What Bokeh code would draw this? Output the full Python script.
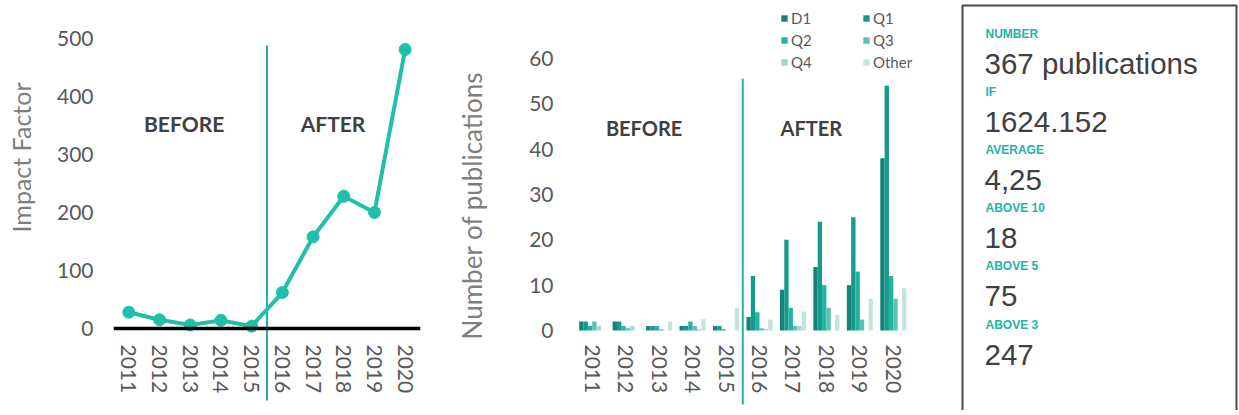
import math
from bokeh.plotting import figure
from bokeh.models import Range1d, FixedTicker, Legend, LegendItem
from bokeh.layouts import row
from bokeh.core.properties import value
from bokeh.embed import file_html
from bokeh.resources import INLINE

# ---------------- data ----------------
years = [2011, 2012, 2013, 2014, 2015, 2016, 2017, 2018, 2019, 2020]
impact_factor = [28, 15, 6, 14, 4, 62, 158, 228, 200, 481]

series_names = ["D1", "Q1", "Q2", "Q3", "Q4", "Other"]
d1 = [2, 2, 1, 1, 1, 3, 9, 14, 10, 38]
q1 = [2, 2, 1, 1, 1, 12, 20, 24, 25, 54]
q2 = [1, 1, 1, 2, 0.3, 4, 5, 10, 13, 12]
q3 = [2, 0.5, 0.3, 1, 0, 0.5, 1, 5, 2.4, 7]
q4 = [1, 1, 0, 0.3, 0, 0.3, 1, 0, 0, 0]
other = [0, 0, 2, 2.5, 5, 2.4, 4.2, 3.5, 7, 9.3]
series_values = [d1, q1, q2, q3, q4, other]
series_colors = ["#15837a", "#17998b", "#20b4a3", "#58c2b3", "#a2d6cc", "#c6e4de"]

period_labels = ["BEFORE", "AFTER"]
if_ticks = [0, 100, 200, 300, 400, 500]
pub_ticks = [0, 10, 20, 30, 40, 50, 60]

stat_labels = ["NUMBER", "IF", "AVERAGE", "ABOVE 10", "ABOVE 5", "ABOVE 3"]
stat_values = ["367 publications", "1624.152", "4,25", "18", "75", "247"]

# ---------------- style ----------------
FONT = "Lato"
TICK_COLOR = "#595959"
AXLABEL_COLOR = "#7f7f7f"
TEAL_LINE = "#20bfa9"
DIVIDER = "#1fb3a4"
divider_x = (years[4] + years[5]) / 2.0
H = 410
NBSP = "\u00a0"


def base_style(p):
    p.outline_line_color = None
    p.grid.visible = False
    p.background_fill_color = "white"
    p.border_fill_color = "white"
    p.title.visible = False


def style_axes(p, yticks, ylabel, xstandoff, ystandoff, lstandoff, lsize):
    p.xaxis.fixed_location = 0
    p.xaxis.ticker = FixedTicker(ticks=years)
    p.xaxis.major_label_orientation = "vertical"
    p.xaxis.major_tick_line_color = None
    p.xaxis.minor_tick_line_color = None
    p.xaxis.major_tick_out = 0
    p.xaxis.major_tick_in = 0
    p.xaxis.minor_tick_out = 0
    p.xaxis.major_label_standoff = xstandoff
    p.xaxis.major_label_text_font = FONT
    p.xaxis.major_label_text_font_size = "21px"
    p.xaxis.major_label_text_color = TICK_COLOR

    p.yaxis.ticker = FixedTicker(ticks=yticks)
    p.yaxis.axis_line_color = None
    p.yaxis.major_tick_line_color = None
    p.yaxis.minor_tick_line_color = None
    p.yaxis.major_tick_out = 0
    p.yaxis.major_tick_in = 0
    p.yaxis.minor_tick_out = 0
    p.yaxis.major_label_standoff = ystandoff
    p.yaxis.major_label_text_font = FONT
    p.yaxis.major_label_text_font_size = "21px"
    p.yaxis.major_label_text_color = TICK_COLOR
    p.yaxis.axis_label = ylabel
    p.yaxis.axis_label_text_font = FONT
    p.yaxis.axis_label_text_font_size = lsize
    p.yaxis.axis_label_text_font_style = "normal"
    p.yaxis.axis_label_text_color = AXLABEL_COLOR
    p.yaxis.axis_label_standoff = lstandoff


# ---------------- left: Impact factor line ----------------
p1 = figure(width=453, height=H,
            x_range=Range1d(2010.5, 2020.5), y_range=Range1d(-141.4, 565.5),
            output_backend="svg", toolbar_location=None,
            min_border_left=113, min_border_right=33,
            min_border_top=0, min_border_bottom=0)
base_style(p1)
# leading no-break spaces lift the centred label to sit beside the value range
style_axes(p1, if_ticks, NBSP * 15 + "Impact Factor", 16, 20, 18, "25px")
p1.xaxis.axis_line_color = "black"
p1.xaxis.axis_line_width = 3.5

p1.segment(x0=[divider_x], x1=[divider_x], y0=[-124], y1=[488],
           line_color=DIVIDER, line_width=2)
p1.line(years, impact_factor, line_color=TEAL_LINE, line_width=4)
p1.scatter(years, impact_factor, size=12, fill_color=TEAL_LINE, line_color=TEAL_LINE)
p1.text(x=[2012.8, 2017.65], y=[354, 354], text=period_labels,
        text_font=value(FONT), text_font_style="bold", text_font_size="21px",
        text_color="#404040", text_align="center", text_baseline="middle")

# ---------------- middle: publications bars ----------------
p2 = figure(width=495, height=H,
            x_range=Range1d(2010.5, 2021.65), y_range=Range1d(-17.65, 72.8),
            output_backend="svg", toolbar_location=None,
            min_border_left=117, min_border_right=0,
            min_border_top=0, min_border_bottom=0)
base_style(p2)
style_axes(p2, pub_ticks, "Number of publications", 14, 22, 38, "26px")
p2.xaxis.axis_line_color = None

bar_w = 0.13
renderers = []
for i, (name, vals, col) in enumerate(zip(series_names, series_values, series_colors)):
    off = (i - 2.5) * bar_w
    r = p2.vbar(x=[y + off for y in years], top=vals, bottom=0, width=bar_w,
                fill_color=col, line_color=None)
    renderers.append(r)

p2.segment(x0=[divider_x], x1=[divider_x], y0=[-16.3], y1=[55.6],
           line_color=DIVIDER, line_width=2)
p2.text(x=[2012.55, 2017.55], y=[44.6, 44.6], text=period_labels,
        text_font=value(FONT), text_font_style="bold", text_font_size="20px",
        text_color="#404040", text_align="center", text_baseline="middle")


def make_legend(idx, loc):
    lg = Legend(items=[LegendItem(label=series_names[k], renderers=[renderers[k]]) for k in idx],
                location=loc, orientation="vertical")
    lg.background_fill_alpha = 0
    lg.border_line_color = None
    lg.padding = 0
    lg.margin = 0
    lg.spacing = 4
    lg.glyph_width = 8
    lg.glyph_height = 8
    lg.label_height = 17
    lg.label_standoff = 3
    lg.label_text_font = FONT
    lg.label_text_font_size = "15px"
    lg.label_text_color = TICK_COLOR
    return lg


p2.add_layout(make_legend([0, 2, 4], (205, 339)))
p2.add_layout(make_legend([1, 3, 5], (287, 339)))

# ---------------- right: summary box ----------------
p3 = figure(width=290, height=H,
            x_range=Range1d(0, 290), y_range=Range1d(H, 0),
            output_backend="svg", toolbar_location=None,
            min_border_left=0, min_border_right=0,
            min_border_top=0, min_border_bottom=0)
base_style(p3)
p3.axis.visible = False
p3.quad(left=[14], right=[288], top=[5], bottom=[440],
        fill_color=None, line_color="#4a4a4a", line_width=2)

label_y = [33 + 58.2 * i for i in range(len(stat_labels))]
value_y = [y + 30 for y in label_y]
p3.text(x=[37] * len(stat_labels), y=label_y, text=stat_labels,
        text_font=value("Liberation Sans"), text_font_style="bold",
        text_font_size="12px", text_color="#22b5a5",
        text_align="left", text_baseline="middle")
p3.text(x=[36] * len(stat_values), y=value_y, text=stat_values,
        text_font=value("Liberation Sans"), text_font_size="29.5px",
        text_color="#404040", text_align="left", text_baseline="middle")

layout = row(p1, p2, p3)
open("out.html", "w").write(file_html(layout, INLINE))
